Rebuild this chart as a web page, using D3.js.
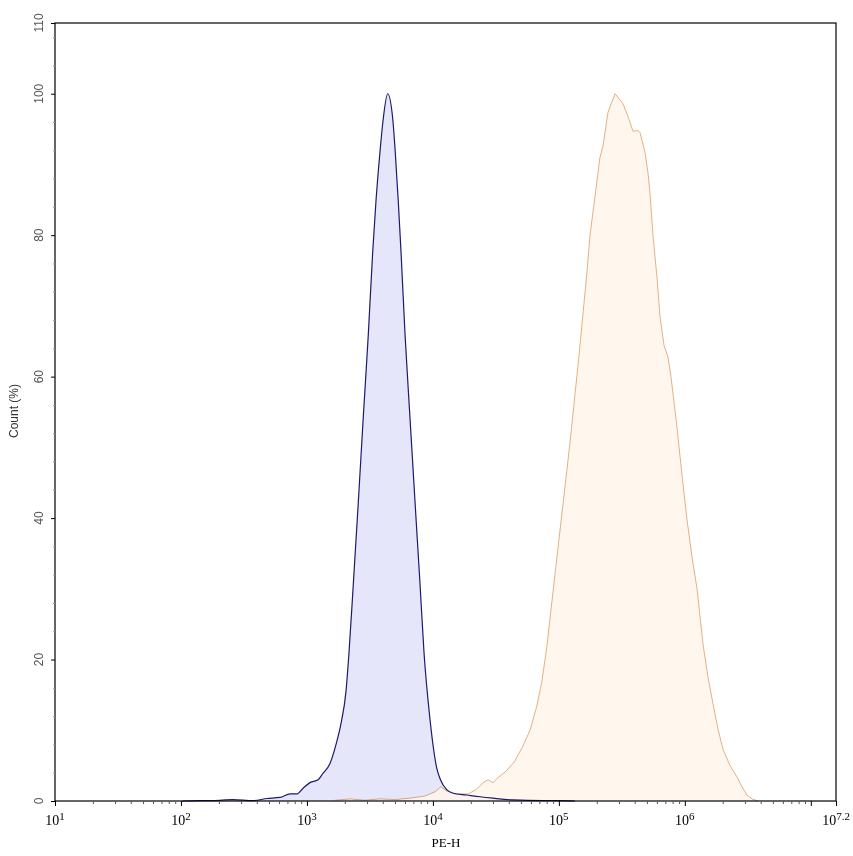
<!DOCTYPE html>
<html>
<head>
<meta charset="utf-8">
<script src="https://cdn.jsdelivr.net/npm/d3@7"></script>
<style>
  html, body { margin: 0; padding: 0; background: #fff; }
  svg { display: block; }
</style>
</head>
<body>
<svg id="chart" width="853" height="856"></svg>
<script>
// ---- data (x as log10 of PE-H intensity, y as Count %) ----
const blueExp = [2.008, 2.151, 2.31, 2.413, 2.572, 2.683, 2.786, 2.866, 2.921, 2.969, 3.024, 3.088, 3.127, 3.183, 3.231, 3.271, 3.31, 3.334, 3.368, 3.408, 3.447, 3.487, 3.522, 3.548, 3.580, 3.606, 3.641, 3.681, 3.701, 3.725, 3.747, 3.779, 3.818, 3.858, 3.898, 3.929, 3.976, 4.030, 4.06, 4.109, 4.162, 4.268, 4.374, 4.477, 4.636, 4.874, 5.009, 5.128];
const blueCount = [0, 0.05, 0.1, 0.2, 0.05, 0.35, 0.5, 1.0, 1.0, 1.8, 2.6, 3.0, 3.9, 5.3, 8, 11, 15.5, 21, 30.6, 42.3, 54.2, 65.9, 77.6, 84.8, 91.8, 96.5, 100, 96.5, 91.8, 84.8, 77.6, 65.9, 54.2, 42.3, 30.6, 21.1, 11.7, 4.7, 3.0, 1.6, 1.1, 0.85, 0.6, 0.4, 0.15, 0.05, 0.05, 0];

const orangeExp = [3.223, 3.342, 3.461, 3.580, 3.699, 3.818, 3.937, 4.017, 4.064, 4.112, 4.175, 4.279, 4.342, 4.398, 4.437, 4.477, 4.517, 4.580, 4.644, 4.707, 4.771, 4.826, 4.866, 4.906, 4.937, 4.969, 5.001, 5.033, 5.065, 5.096, 5.128, 5.160, 5.192, 5.224, 5.247, 5.287, 5.326, 5.350, 5.390, 5.446, 5.509, 5.549, 5.588, 5.628, 5.644, 5.684, 5.707, 5.723, 5.747, 5.779, 5.803, 5.835, 5.866, 5.890, 5.938, 5.978, 6.017, 6.057, 6.097, 6.144, 6.184, 6.223, 6.263, 6.303, 6.359, 6.414, 6.454, 6.493, 6.533, 6.581];
const orangeCount = [0.1, 0.3, 0.1, 0.3, 0.2, 0.4, 0.7, 1.3, 2.0, 1.4, 1.0, 1.0, 1.6, 2.6, 3.0, 2.6, 3.3, 4.2, 5.5, 7.5, 10, 13.5, 17, 22, 27, 32, 37, 42, 47, 52, 57.5, 63, 69, 75, 80, 85.5, 91, 92.6, 97.4, 100, 98.6, 96.8, 94.7, 94.8, 94.5, 91.7, 88.9, 86, 80, 74, 68.5, 64.4, 62.8, 60, 52.8, 46, 39.8, 34.5, 30, 22.2, 17.5, 13.8, 10.2, 7.3, 5, 3.4, 2, 0.85, 0.3, 0];

const xMajorExp = [1, 2, 3, 4, 5, 6, 7.2];
const xMajorLabel = ["1", "2", "3", "4", "5", "6", "7.2"];
const yMajorTicks = [0, 20, 40, 60, 80, 100, 110];
const yMinorTicks = [4, 8, 12, 16, 24, 28, 32, 36, 44, 48, 52, 56, 64, 68, 72, 76, 84, 88, 92, 96, 104, 108];
const xTitle = "PE-H";
const yTitle = "Count (%)";

// ---- layout ----
const L = 55, R = 836, T = 23, B = 801;
const svg = d3.select("#chart");

const x = d3.scaleLog().domain([10, Math.pow(10, 7.2)]).range([L, R]);
const y = d3.scaleLinear().domain([0, 110]).range([B, T]);

const toPts = (ex, cnt) => ex.map((e, i) => ({ v: Math.pow(10, e), c: cnt[i] }));
const bluePts = toPts(blueExp, blueCount);
const orangePts = toPts(orangeExp, orangeCount);

const areaSmooth = d3.area().x(d => x(d.v)).y0(y(0)).y1(d => y(d.c)).curve(d3.curveMonotoneX);
const lineSmooth = d3.line().x(d => x(d.v)).y(d => y(d.c)).curve(d3.curveMonotoneX);
const areaLin = d3.area().x(d => x(d.v)).y0(y(0)).y1(d => y(d.c)).curve(d3.curveLinear);
const lineLin = d3.line().x(d => x(d.v)).y(d => y(d.c)).curve(d3.curveLinear);

// fills
svg.append("path").datum(bluePts).attr("d", areaSmooth).attr("fill", "#e6e6fb");
svg.append("path").datum(orangePts).attr("d", areaLin).attr("fill", "#fff5eb").attr("fill-opacity", 0.85);
// lines
svg.append("path").datum(orangePts).attr("d", lineLin).attr("fill", "none")
  .attr("stroke", "#e3b489").attr("stroke-width", 1).style("mix-blend-mode", "multiply");
svg.append("path").datum(bluePts).attr("d", lineSmooth).attr("fill", "none")
  .attr("stroke", "#1b1b6b").attr("stroke-width", 1.2);

// frame
svg.append("rect").attr("x", L).attr("y", T).attr("width", R - L).attr("height", B - T)
  .attr("fill", "none").attr("stroke", "#000").attr("stroke-width", 1.2);

// y axis ticks
const yAxisMajor = d3.axisLeft(y).tickValues(yMajorTicks).tickSize(4).tickFormat("");
const gy = svg.append("g").attr("transform", `translate(${L},0)`).call(yAxisMajor);
gy.select(".domain").remove();
gy.selectAll("line").attr("stroke", "#000");
const yAxisMinor = d3.axisLeft(y).tickValues(yMinorTicks).tickSize(2).tickFormat("");
const gym = svg.append("g").attr("transform", `translate(${L},0)`).call(yAxisMinor);
gym.select(".domain").remove();
gym.selectAll("line").attr("stroke", "#999");

svg.append("g").selectAll("text").data(yMajorTicks).join("text")
  .attr("transform", d => `translate(43,${y(d)}) rotate(-90)`)
  .attr("text-anchor", "middle")
  .attr("font-family", "Arial, 'Liberation Sans', sans-serif")
  .attr("font-size", 12).attr("fill", "#555")
  .text(d => d);

// x axis ticks
const xMinor = [];
for (let d = 1; d <= 7; d++) for (let k = 2; k <= 9; k++) {
  const v = k * Math.pow(10, d);
  if (v < Math.pow(10, 7.2)) xMinor.push(v);
}
const xMajorVals = xMajorExp.map(e => Math.pow(10, e)).concat([1e7]);
const gx = svg.append("g").attr("transform", `translate(0,${B})`)
  .call(d3.axisBottom(x).tickValues(xMajorVals).tickSize(5).tickFormat(""));
gx.select(".domain").remove();
gx.selectAll("line").attr("stroke", "#000");
const gxm = svg.append("g").attr("transform", `translate(0,${B})`)
  .call(d3.axisBottom(x).tickValues(xMinor).tickSize(3).tickFormat(""));
gxm.select(".domain").remove();
gxm.selectAll("line").attr("stroke", "#555");

const xl = svg.append("g").selectAll("text").data(xMajorExp).join("text")
  .attr("x", d => x(Math.pow(10, d)))
  .attr("y", 825)
  .attr("text-anchor", "middle")
  .attr("font-family", "'Liberation Serif', 'Times New Roman', serif")
  .attr("font-size", 14).attr("fill", "#000");
xl.append("tspan").text("10");
xl.append("tspan").attr("dy", -5).attr("font-size", 11).text((d, i) => xMajorLabel[i]);

// titles
svg.append("text").attr("x", 446).attr("y", 847).attr("text-anchor", "middle")
  .attr("font-family", "'Liberation Serif', 'Times New Roman', serif")
  .attr("font-size", 13).attr("fill", "#000").text(xTitle);
svg.append("text").attr("transform", "translate(18,411) rotate(-90)").attr("text-anchor", "middle")
  .attr("font-family", "Arial, 'Liberation Sans', sans-serif")
  .attr("font-size", 12).attr("fill", "#333").text(yTitle);
</script>
</body>
</html>
